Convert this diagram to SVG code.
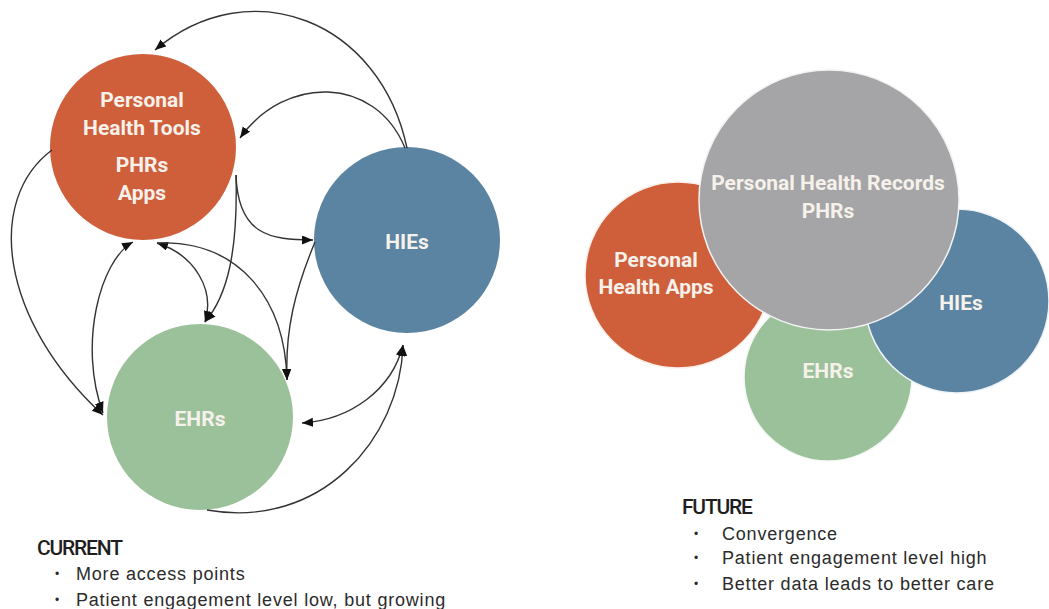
<svg xmlns="http://www.w3.org/2000/svg" width="1049" height="609" viewBox="0 0 1049 609">
  <style>
    .lbl { font-family: Roboto, "Liberation Sans", sans-serif; font-weight: bold; font-size: 21px; fill: #f6f1ea; text-anchor: middle; }
    .head { font-family: Roboto, "Liberation Sans", sans-serif; font-weight: 500; font-size: 21px; letter-spacing: -1.2px; fill: #1e1e1e; }
    .item { font-family: "Liberation Sans", Arial, sans-serif; font-size: 18px; letter-spacing: 0.8px; fill: #2b2b2b; }
    .dot { font-family: "Liberation Sans", Arial, sans-serif; font-size: 12px; fill: #2b2b2b; }
    .orange { fill: #cf5f3b; }
    .blue { fill: #5a84a2; }
    .green { fill: #9bc19b; }
    .grey { fill: #a5a5a7; }
    .edge { fill: none; stroke: #333; stroke-width: 1.4; }
  </style>
  <defs>
    <marker id="arr" markerUnits="userSpaceOnUse" markerWidth="12" markerHeight="10" refX="11" refY="4.5" orient="auto-start-reverse">
      <path d="M0,0 L11,4.5 L0,9 z" fill="#111"/>
    </marker>
  </defs>
  <rect width="1049" height="609" fill="#fff"/>

  <!-- current state: three separate systems -->
  <g id="tools">
    <circle class="orange" cx="143" cy="147" r="93"/>
    <text class="lbl" x="142" y="107">Personal</text>
    <text class="lbl" x="142" y="135">Health Tools</text>
    <text class="lbl" x="142" y="172">PHRs</text>
    <text class="lbl" x="142" y="200">Apps</text>
  </g>
  <g id="hies-current">
    <circle class="blue" cx="407" cy="240" r="93"/>
    <text class="lbl" x="407" y="249">HIEs</text>
  </g>
  <g id="ehrs-current">
    <circle class="green" cx="200" cy="417" r="93"/>
    <text class="lbl" x="200" y="426">EHRs</text>
  </g>

  <g id="connectors">
    <path class="edge" d="M407,148 C380,20 250,-30 155,50" marker-end="url(#arr)"/>
    <path class="edge" d="M405,148 C375,75 285,75 240,138" marker-end="url(#arr)"/>
    <path class="edge" d="M236,175 C238,235 270,240 313,240" marker-end="url(#arr)"/>
    <path class="edge" d="M236,175 C238,250 228,295 205,322" marker-end="url(#arr)"/>
    <path class="edge" d="M52,150 C-15,200 0,320 103,415" marker-end="url(#arr)"/>
    <path class="edge" d="M133,242 C100,260 78,345 103,413" marker-start="url(#arr)" marker-end="url(#arr)"/>
    <path class="edge" d="M157,243 C195,255 215,290 205,322" marker-start="url(#arr)" marker-end="url(#arr)"/>
    <path class="edge" d="M157,243 C240,240 285,300 287,380" marker-end="url(#arr)"/>
    <path class="edge" d="M315,242 C295,290 285,330 287,380" marker-end="url(#arr)"/>
    <path class="edge" d="M403,345 C392,390 350,420 302,423" marker-start="url(#arr)" marker-end="url(#arr)"/>
    <path class="edge" d="M207,510 C320,530 400,440 403,345" marker-end="url(#arr)"/>
  </g>

  <!-- future state: converged systems -->
  <g id="apps-future">
    <circle class="orange" cx="678" cy="275" r="93" stroke="#fbeee8" stroke-width="1.5"/>
    <text class="lbl" x="656" y="267">Personal</text>
    <text class="lbl" x="656" y="294">Health Apps</text>
  </g>
  <g id="ehrs-future">
    <circle class="green" cx="828" cy="377" r="84" stroke="#f4f8f4" stroke-width="1.5"/>
    <text class="lbl" x="828" y="378">EHRs</text>
  </g>
  <g id="hies-future">
    <circle class="blue" cx="957" cy="301" r="92" stroke="#eef3f7" stroke-width="1.5"/>
    <text class="lbl" x="961" y="310">HIEs</text>
  </g>
  <g id="phrs-future">
    <circle class="grey" cx="829" cy="200" r="130" stroke="#f2f2f2" stroke-width="1.5"/>
    <text class="lbl" x="828" y="190">Personal Health Records</text>
    <text class="lbl" x="828" y="218">PHRs</text>
  </g>

  <!-- notes -->
  <g id="current-notes">
    <text class="head" x="37" y="555">CURRENT</text>
    <text class="dot" x="55" y="578">•</text>
    <text class="item" x="76" y="580">More access points</text>
    <text class="dot" x="55" y="604">•</text>
    <text class="item" x="76" y="606">Patient engagement level low, but growing</text>
  </g>
  <g id="future-notes">
    <text class="head" x="682" y="514">FUTURE</text>
    <text class="dot" x="694" y="538">•</text>
    <text class="item" x="722" y="540">Convergence</text>
    <text class="dot" x="694" y="562">•</text>
    <text class="item" x="722" y="564">Patient engagement level high</text>
    <text class="dot" x="694" y="588">•</text>
    <text class="item" x="722" y="590">Better data leads to better care</text>
  </g>
</svg>
